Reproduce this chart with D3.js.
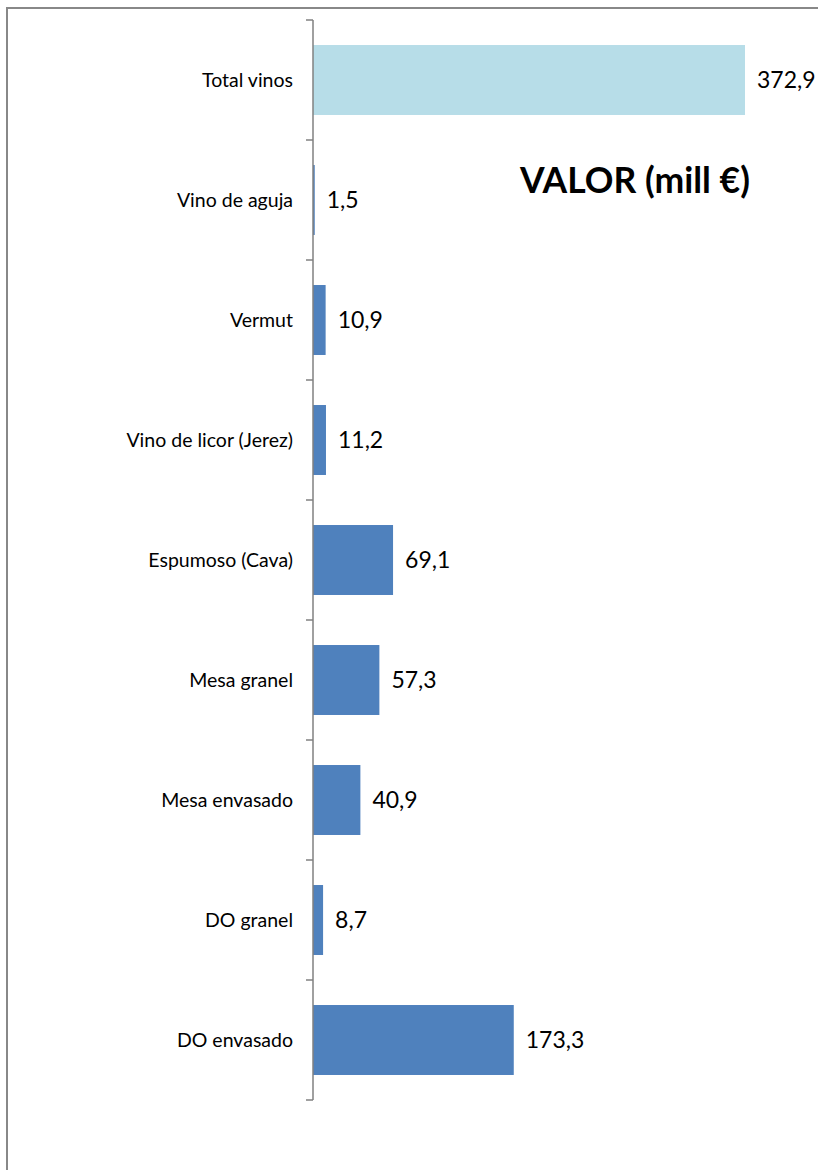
<!DOCTYPE html>
<html>
<head>
<meta charset="utf-8">
<script src="https://cdn.jsdelivr.net/npm/d3@7"></script>
<style>
  body { margin: 0; background: #fff; }
  svg { display: block; font-family: Lato, "Open Sans", sans-serif; }
</style>
</head>
<body>
<div id="container"></div>
<script>
// data, top to bottom
const categories = ['Total vinos', 'Vino de aguja', 'Vermut', 'Vino de licor (Jerez)',
  'Espumoso (Cava)', 'Mesa granel', 'Mesa envasado', 'DO granel', 'DO envasado'];
const values = [372.9, 1.5, 10.9, 11.2, 69.1, 57.3, 40.9, 8.7, 173.3];
const labels = ['372,9', '1,5', '10,9', '11,2', '69,1', '57,3', '40,9', '8,7', '173,3'];
const title = 'VALOR (mill €)';

const width = 818;
const height = 1170;
const x0 = 313;

const svg = d3.select('div#container').append('svg')
    .attr('width', width)
    .attr('height', height);

// outer frame (cut off at right and bottom)
svg.append('path')
    .attr('d', `M7,${height + 5} V8 H${width + 5}`)
    .attr('fill', 'none')
    .attr('stroke', '#888')
    .attr('stroke-width', 2);

const x = d3.scaleLinear().domain([0, 372.9]).range([x0, 745]);
const y = d3.scaleBand().domain(categories).range([20, 1100]).paddingInner(0.417).paddingOuter(0.2085);

const data = categories.map((c, i) => ({ cat: c, val: values[i], lab: labels[i] }));

svg.selectAll('rect.bar')
  .data(data)
  .enter()
  .append('rect')
  .attr('class', 'bar')
  .attr('x', x0)
  .attr('y', (d) => y(d.cat))
  .attr('width', (d) => x(d.val) - x0)
  .attr('height', y.bandwidth())
  .attr('fill', (d, i) => i === 0 ? '#b7dde8' : '#4f81bd');

// category axis: ticks between bands
const boundaries = d3.range(categories.length + 1).map((i) => 20 + i * 120);
svg.append('line')
    .attr('x1', x0).attr('x2', x0)
    .attr('y1', 20).attr('y2', 1100)
    .attr('stroke', '#808080').attr('stroke-width', 1.5);
svg.selectAll('line.tick')
  .data(boundaries)
  .enter()
  .append('line')
  .attr('class', 'tick')
  .attr('x1', x0 - 7).attr('x2', x0)
  .attr('y1', (d) => d).attr('y2', (d) => d)
  .attr('stroke', '#808080').attr('stroke-width', 1.5);

svg.selectAll('text.cat')
  .data(data)
  .enter()
  .append('text')
  .attr('class', 'cat')
  .attr('x', 293)
  .attr('y', (d) => y(d.cat) + y.bandwidth() / 2)
  .attr('dy', '0.35em')
  .attr('text-anchor', 'end')
  .attr('font-size', 19.5)
  .attr('fill', '#000')
  .text((d) => d.cat);

svg.selectAll('text.val')
  .data(data)
  .enter()
  .append('text')
  .attr('class', 'val')
  .attr('x', (d) => x(d.val) + 12)
  .attr('y', (d) => y(d.cat) + y.bandwidth() / 2)
  .attr('dy', '0.36em')
  .attr('font-size', 23)
  .attr('fill', '#000')
  .text((d) => d.lab);

svg.append('text')
    .attr('x', 520)
    .attr('y', 193)
    .attr('font-size', 35.5)
    .attr('font-weight', 'bold')
    .attr('fill', '#000')
    .text(title);
</script>
</body>
</html>
